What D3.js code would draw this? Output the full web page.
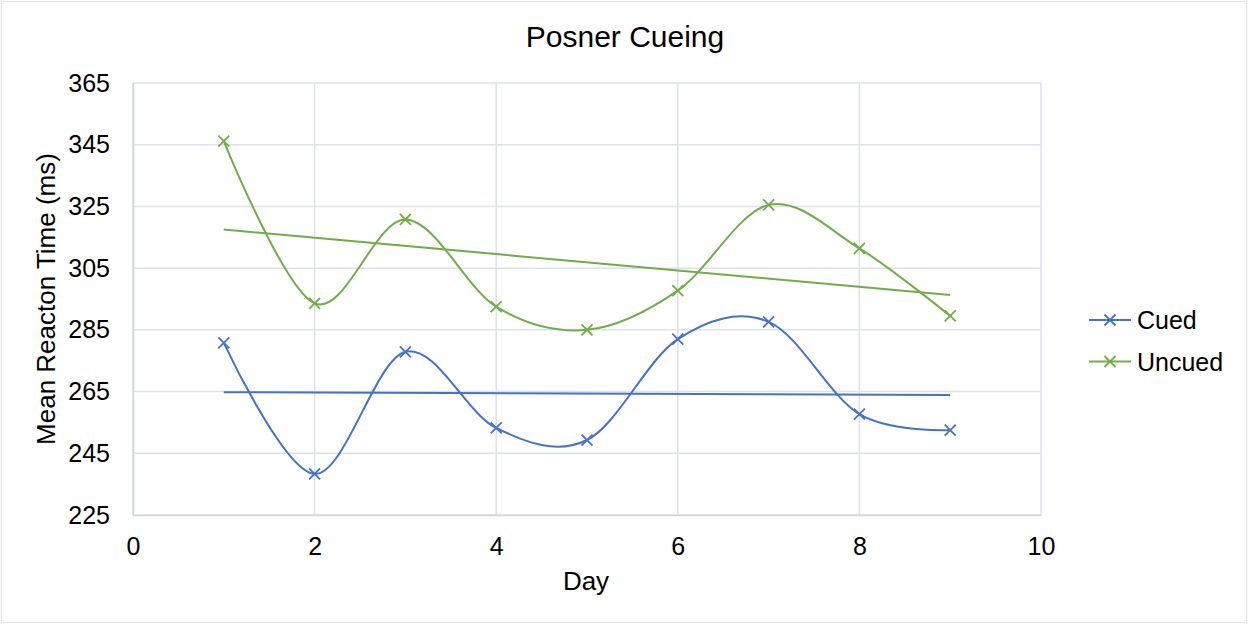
<!DOCTYPE html>
<html>
<head>
<meta charset="utf-8">
<script src="https://cdn.jsdelivr.net/npm/d3@7"></script>
<style>
  html, body { margin: 0; padding: 0; background: #fff; }
  svg { display: block; font-family: "Liberation Sans", Arial, sans-serif; }
</style>
</head>
<body>
<div id="chart"></div>
<script>
// data
const days = [1, 2, 3, 4, 5, 6, 7, 8, 9];
const cued = [280.8, 238.3, 277.9, 253.2, 249.3, 282.0, 287.6, 257.7, 252.5];
const uncued = [346.2, 293.6, 320.8, 292.5, 285.0, 297.7, 325.5, 311.4, 289.5];
const seriesNames = ["Cued", "Uncued"];
const seriesColors = ["#4472C4", "#70AD47"];
const xTicks = [0, 2, 4, 6, 8, 10];
const yTicks = [225, 245, 265, 285, 305, 325, 345, 365];

const width = 1249, height = 625;
const margin = {left: 133, right: 208, top: 83, bottom: 110};

const svg = d3.select("#chart").append("svg")
    .attr("width", width)
    .attr("height", height);

// outer chart border
svg.append("rect")
    .attr("x", 1.5).attr("y", 1.5)
    .attr("width", width - 4).attr("height", height - 4)
    .attr("fill", "#fff")
    .attr("stroke", "#dfe2e8");

const x = d3.scaleLinear().domain([0, 10]).range([margin.left, width - margin.right]);
const y = d3.scaleLinear().domain([225, 365]).range([height - margin.bottom, margin.top]);

// gridlines
svg.append("g")
    .selectAll("line")
    .data(yTicks)
    .join("line")
    .attr("x1", x(0)).attr("x2", x(10))
    .attr("y1", d => y(d)).attr("y2", d => y(d))
    .attr("stroke", "#dde1e9").attr("stroke-width", 1.5);

svg.append("g")
    .selectAll("line")
    .data(xTicks)
    .join("line")
    .attr("x1", d => x(d)).attr("x2", d => x(d))
    .attr("y1", y(225)).attr("y2", y(365))
    .attr("stroke", "#dde1e9").attr("stroke-width", 1.5);

// axes
const xAxis = svg.append("g")
    .attr("transform", `translate(0,${y(225)})`)
    .call(d3.axisBottom(x).tickValues(xTicks).tickSize(0).tickPadding(22));
xAxis.select(".domain").attr("stroke", "#cfd5e0").attr("stroke-width", 1.5);
xAxis.selectAll("text").attr("font-size", 25).attr("fill", "#000")
    .attr("font-family", "Liberation Sans, Arial, sans-serif");

const yAxis = svg.append("g")
    .attr("transform", `translate(${x(0)},0)`)
    .call(d3.axisLeft(y).tickValues(yTicks).tickSize(0).tickPadding(23));
yAxis.select(".domain").attr("stroke", "#cfd5e0").attr("stroke-width", 1.5);
yAxis.selectAll("text").attr("font-size", 25).attr("fill", "#000")
    .attr("font-family", "Liberation Sans, Arial, sans-serif");

// titles
svg.append("text")
    .attr("x", 625).attr("y", 47)
    .attr("text-anchor", "middle")
    .attr("font-size", 30)
    .text("Posner Cueing");

svg.append("text")
    .attr("x", 586).attr("y", 590)
    .attr("text-anchor", "middle")
    .attr("font-size", 26)
    .text("Day");

svg.append("text")
    .attr("transform", `translate(55,${(y(225) + y(365)) / 2}) rotate(-90)`)
    .attr("text-anchor", "middle")
    .attr("font-size", 26)
    .text("Mean Reacton Time (ms)");

// series
const allSeries = [cued, uncued];
const line = d3.line()
    .x(d => x(d[0]))
    .y(d => y(d[1]))
    .curve(d3.curveCardinal.tension(0));

function drawX(g, cx, cy, color) {
    const s = 5.5;
    g.append("path")
        .attr("d", `M${cx - s},${cy - s}L${cx + s},${cy + s}M${cx - s},${cy + s}L${cx + s},${cy - s}`)
        .attr("stroke", color)
        .attr("stroke-width", 1.8)
        .attr("fill", "none");
}

allSeries.forEach((vals, i) => {
    const color = seriesColors[i];
    const pts = days.map((d, j) => [d, vals[j]]);

    // linear trendline (least squares)
    const mx = d3.mean(days), my = d3.mean(vals);
    const slope = d3.sum(days, (d, j) => (d - mx) * (vals[j] - my)) /
                  d3.sum(days, d => (d - mx) * (d - mx));
    const icept = my - slope * mx;
    const x0 = d3.min(days), x1 = d3.max(days);
    svg.append("line")
        .attr("x1", x(x0)).attr("y1", y(icept + slope * x0))
        .attr("x2", x(x1)).attr("y2", y(icept + slope * x1))
        .attr("stroke", color).attr("stroke-width", 2);

    svg.append("path")
        .datum(pts)
        .attr("d", line)
        .attr("fill", "none")
        .attr("stroke", color)
        .attr("stroke-width", 2);

    const g = svg.append("g");
    pts.forEach(p => drawX(g, x(p[0]), y(p[1]), color));
});

// legend
const legend = svg.append("g");
seriesNames.forEach((name, i) => {
    const ly = 320 + i * 41.5;
    legend.append("line")
        .attr("x1", 1089).attr("x2", 1131)
        .attr("y1", ly).attr("y2", ly)
        .attr("stroke", seriesColors[i]).attr("stroke-width", 2);
    drawX(legend, 1110, ly, seriesColors[i]);
    legend.append("text")
        .attr("x", 1137).attr("y", ly + 9)
        .attr("font-size", 25)
        .text(name);
});
</script>
</body>
</html>
